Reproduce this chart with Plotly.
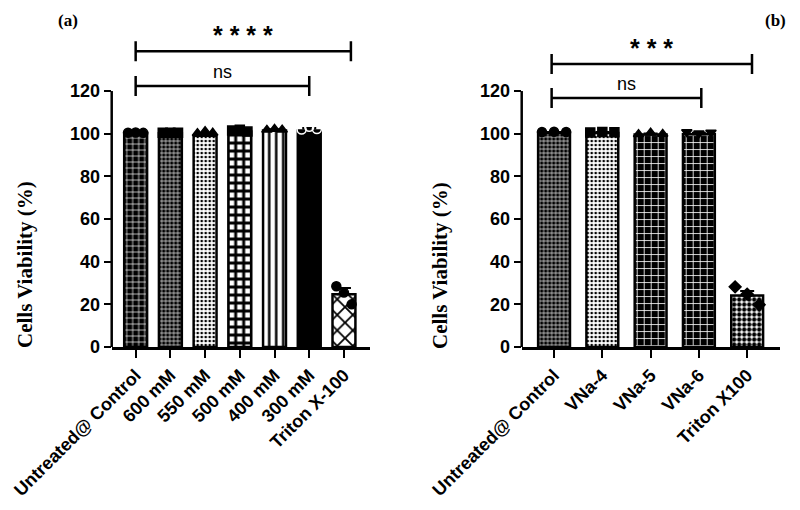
import plotly.graph_objects as go

# ---------------- data ----------------
cats_a = ["Untreated@ Control", "600 mM", "550 mM", "500 mM", "400 mM", "300 mM", "Triton X-100"]
mean_a = [100.3, 100.2, 99.0, 101.0, 101.5, 101.5, 24.7]
sd_a = [0.4, 0.5, 0.8, 0.9, 0.6, 1.2, 3.0]
pts_a = [
    [100.5, 100.6, 100.4],
    [100.5, 100.4, 100.5],
    [100.2, 101.2, 100.4],
    [101.5, 101.8, 101.0],
    [101.8, 102.2, 101.9],
    [102.0, 103.2, 102.2],
    [28.5, 25.5, 20.0],
]
sym_a = ["circle", "square", "triangle-up", "square", "triangle-up", "circle-open", "circle"]

cats_b = ["Untreated@ Control", "VNa-4", "VNa-5", "VNa-6", "Triton X100"]
mean_b = [100.5, 100.3, 99.6, 99.8, 24.2]
sd_b = [0.3, 0.5, 0.5, 0.6, 2.0]
pts_b = [
    [100.8, 100.9, 100.8],
    [100.6, 100.8, 100.7],
    [99.8, 100.5, 99.9],
    [100.8, 100.2, 100.6],
    [28.2, 24.8, 19.8],
]
sym_b = ["circle", "square", "triangle-up", "triangle-down", "diamond"]

y_ticks = [0, 20, 40, 60, 80, 100, 120]

# significance brackets: (x_start, x_end, y, label)
sig_a = [(0, 6.2, 138.7, "* * * *"), (0, 5, 122.4, "ns")]
sig_b = [(-0.05, 4.1, 132.7, "* * *"), (-0.05, 3.05, 116.7, "ns")]

# ---------------- styling ----------------
# (shape, bgcolor, fgcolor, size, solidity)
pat_a = [("+", "black", "white", 6, 0.22),
         ("+", "black", "white", 4, 0.3),
         (".", "white", "black", 4, 0.35),
         ("+", "white", "black", 8, 0.6),
         ("|", "white", "black", 7, 0.35),
         ("", "black", "black", 8, 0.3),
         ("x", "white", "black", 11, 0.3)]
pat_b = [("+", "black", "white", 4, 0.3),
         (".", "white", "black", 4, 0.35),
         ("+", "black", "white", 7, 0.22),
         ("+", "black", "white", 7, 0.22),
         (".", "white", "black", 5, 0.6)]

W, H = 792, 502   # page body has an 8px margin in the 800x510 window
OFF = 8

def px(x):
    return (x - OFF) / W

def py(y):
    return 1 - (y - OFF) / H

fig = go.Figure()

def add_panel(cats, means, sds, pts, syms, pats, xa, ya, offs):
    for i in range(len(cats)):
        shp, bg, fg, sz, sol = pats[i]
        fig.add_trace(go.Bar(
            x=[i], y=[means[i]], width=0.66, xaxis=xa, yaxis=ya,
            marker=dict(color=bg, line=dict(color="black", width=2.5),
                        pattern=dict(shape=shp, fgcolor=fg, bgcolor=bg, size=sz,
                                     solidity=sol, fillmode="replace")),
            error_y=dict(type="data", array=[sds[i]], arrayminus=[0], symmetric=False,
                         color="black", thickness=2, width=7),
            showlegend=False))
    for i, (p, s) in enumerate(zip(pts, syms)):
        fig.add_trace(go.Scatter(
            x=[i + o for o in offs], y=p, mode="markers", xaxis=xa, yaxis=ya,
            marker=dict(symbol=s, size=9, color="white" if "open" in s else "black",
                        line=dict(color="black", width=1.5)),
            cliponaxis=False, showlegend=False))

add_panel(cats_a, mean_a, sd_a, pts_a, sym_a, pat_a, "x", "y", [-0.22, 0.0, 0.22])
add_panel(cats_b, mean_b, sd_b, pts_b, sym_b, pat_b, "x2", "y2", [-0.25, 0.0, 0.25])

tickfont = dict(family="Liberation Sans", size=18, color="black", weight="bold")

def xaxis_cfg(cats, rng, dom):
    return dict(domain=dom, range=rng, tickmode="array", tickvals=list(range(len(cats))),
                ticktext=cats, tickangle=-45, ticks="outside", ticklen=8, tickwidth=2,
                tickcolor="black", showline=True, linecolor="black", linewidth=2.5,
                showgrid=False, zeroline=False, tickfont=tickfont, automargin=False)

y_dom = [py(347), py(347 - 150 * 2.133)]

def yaxis_cfg(anchor):
    return dict(domain=y_dom, range=[0, 150], anchor=anchor, tickmode="array",
                tickvals=y_ticks, ticks="outside", ticklen=7, tickwidth=2, tickcolor="black",
                showline=False, showgrid=False, zeroline=False, tickfont=tickfont,
                automargin=False)

fig.update_layout(
    width=W, height=H, margin=dict(l=0, r=0, t=0, b=0),
    paper_bgcolor="white", plot_bgcolor="white", barmode="overlay",
    xaxis=xaxis_cfg(cats_a, [-0.69, 6.75], [px(111.7), px(370)]) | dict(anchor="y"),
    yaxis=yaxis_cfg("x"),
    xaxis2=xaxis_cfg(cats_b, [-0.67, 4.68], [px(521.7), px(780)]) | dict(anchor="y2"),
    yaxis2=yaxis_cfg("x2"),
)

shapes = []
annots = []
for xr, yr, sig in (("x", "y", sig_a), ("x2", "y2", sig_b)):
    # y axis line only up to 120
    shapes.append(dict(type="line", xref=xr + " domain", yref=yr, x0=0, x1=0, y0=0, y1=120,
                       line=dict(color="black", width=2.5)))
    for x0, x1, yv, lab in sig:
        shapes.append(dict(type="line", xref=xr, yref=yr, x0=x0, x1=x1, y0=yv, y1=yv,
                           line=dict(color="black", width=2.5)))
        for xe in (x0, x1):
            shapes.append(dict(type="line", xref=xr, yref=yr, x0=xe, x1=xe, y0=yv - 4.7,
                               y1=yv + 4.7, line=dict(color="black", width=2.5)))
        star = "*" in lab
        annots.append(dict(xref=xr, yref=yr, x=(x0 + x1) / 2, y=yv, text=lab, showarrow=False,
                           yanchor="bottom", yshift=0 if star else 2,
                           font=dict(family="Liberation Sans", size=25 if star else 18,
                                     color="black", weight="bold" if star else "normal")))

title_font = dict(family="Liberation Serif", size=21, color="black", weight="bold")
for tx in (25, 440):
    annots.append(dict(xref="paper", yref="paper", x=px(tx), y=py(265), text="Cells Viability (%)",
                       textangle=-90, showarrow=False, font=title_font,
                       xanchor="center", yanchor="middle"))
panel_font = dict(family="Liberation Serif", size=17, color="black", weight="bold")
annots.append(dict(xref="paper", yref="paper", x=px(68), y=py(9), text="(a)",
                   showarrow=False, font=panel_font, xanchor="center", yanchor="top"))
annots.append(dict(xref="paper", yref="paper", x=px(788), y=py(9), text="(b)",
                   showarrow=False, font=panel_font, xanchor="right", yanchor="top"))

fig.update_layout(shapes=shapes, annotations=annots)
fig.write_html("out.html")
